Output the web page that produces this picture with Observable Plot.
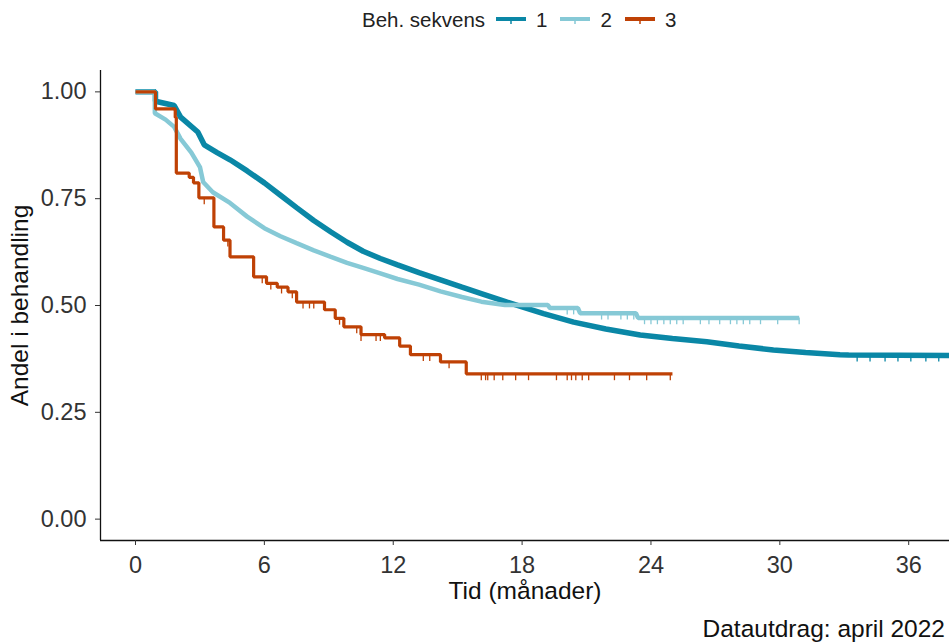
<!DOCTYPE html>
<html>
<head>
<meta charset="utf-8">
<script src="https://cdn.jsdelivr.net/npm/d3@7"></script>
<script src="https://cdn.jsdelivr.net/npm/@observablehq/plot@0.6"></script>
<style>
  html, body { margin: 0; padding: 0; background: white; }
  body { width: 949px; height: 644px; position: relative; overflow: hidden; font-family: "Liberation Sans", Arial, sans-serif; }
  #legend { position: absolute; left: 362px; top: 0; height: 40px; display: flex; align-items: center; font-size: 20.5px; color: #222; }
  #chart { position: absolute; left: 0; top: 44px; }
  #caption { position: absolute; right: 4px; top: 615px; font-size: 24.5px; color: #111; line-height: 28px; }
</style>
</head>
<body>
<div id="legend"></div>
<div id="chart"></div>
<div id="caption">Datautdrag: april 2022</div>
<script>
// ---- data ----
const groups = ["1", "2", "3"];
const groupColors = ["#0a87a6", "#86c9d6", "#bf4105"];
const legendTitle = "Beh. sekvens";
const xLabel = "Tid (månader)";
const yLabel = "Andel i behandling";
const xTicks = [0, 6, 12, 18, 24, 30, 36];
const yTicks = [0, 0.25, 0.5, 0.75, 1];
const xDomain = [-1.63, 37.9];
const yDomain = [-0.05, 1.05];

const time1 = [0, 0.93, 0.93, 1.8, 2.1, 2.9, 3.2, 3.8, 4.4, 5.2, 6.0, 6.75, 7.5, 8.3, 9.1, 9.85, 10.6, 11.4, 12.2, 13.2, 14.2, 15.2, 16.1, 17.3, 18.0, 19.0, 20.4, 21.9, 23.5, 25.0, 26.6, 28.1, 29.7, 31.2, 32.8, 33.2, 37.9];
const surv1 = [1, 1, 0.978, 0.968, 0.941, 0.906, 0.876, 0.858, 0.841, 0.815, 0.787, 0.758, 0.729, 0.699, 0.672, 0.648, 0.627, 0.610, 0.595, 0.577, 0.560, 0.543, 0.528, 0.508, 0.497, 0.481, 0.461, 0.445, 0.431, 0.423, 0.415, 0.405, 0.396, 0.390, 0.385, 0.384, 0.383];

const time2 = [0, 0.9, 0.9, 1.4, 1.8, 2.1, 2.6, 3.0, 3.15, 3.6, 4.4, 5.2, 6.0, 6.75, 7.5, 8.3, 9.1, 9.85, 10.6, 11.4, 12.2, 13.2, 14.2, 15.2, 16.1, 17.2, 19.2, 19.3, 20.6, 20.7, 23.3, 23.4, 30.9];
const surv2 = [1, 1, 0.95, 0.935, 0.918, 0.89, 0.858, 0.824, 0.789, 0.765, 0.74, 0.708, 0.681, 0.662, 0.646, 0.629, 0.614, 0.600, 0.588, 0.575, 0.562, 0.549, 0.533, 0.520, 0.509, 0.501, 0.501, 0.494, 0.494, 0.482, 0.482, 0.471, 0.471];

const time3 = [0, 0.93, 1.85, 1.9, 2.5, 2.7, 2.95, 3.65, 4.1, 4.4, 5.5, 6.1, 6.6, 7.1, 7.5, 8.8, 9.3, 9.7, 10.5, 11.6, 12.3, 12.8, 14.2, 15.4, 25.0];
const surv3 = [1, 0.96, 0.94, 0.81, 0.80, 0.787, 0.752, 0.684, 0.653, 0.614, 0.567, 0.552, 0.543, 0.532, 0.508, 0.49, 0.47, 0.45, 0.432, 0.424, 0.405, 0.385, 0.368, 0.34, 0.34];

// censoring times (visible tick marks)
const censor1 = [33.6, 34.2, 34.9, 35.5, 36.1, 36.8, 37.4];
const censor2 = [20.1, 20.4, 21.7, 22.0, 22.6, 22.9, 23.2, 23.7, 24.0, 24.3, 24.6, 24.9, 25.2, 25.5, 26.3, 26.7, 27.2, 27.7, 28.0, 28.3, 28.6, 29.1, 29.9, 30.9];
const censor3 = [3.2, 4.3, 5.9, 6.3, 6.8, 7.3, 7.8, 8.1, 8.3, 9.5, 10.3, 10.5, 11.2, 11.4, 13.4, 13.7, 14.6, 16.1, 16.3, 16.4, 16.7, 17.1, 17.7, 18.3, 19.6, 20.1, 20.3, 20.5, 20.8, 21.1, 22.3, 23.0, 23.8, 24.9];

// ---- build tables ----
const seriesT = [time1, time2, time3];
const seriesS = [surv1, surv2, surv3];
const censors = [censor1, censor2, censor3];
const rows = groups.map((g, i) => seriesT[i].map((t, j) => ({group: g, t, s: seriesS[i][j]})));
function survAt(i, c) {
  const T = seriesT[i], S = seriesS[i];
  let k = 0;
  for (let j = 0; j < T.length; j++) if (T[j] <= c) k = j;
  return S[k];
}
const censorRows = groups.flatMap((g, i) => censors[i].map(c => ({group: g, t: c, s: survAt(i, c)})));
const widths = [5.5, 4.5, 3.2];
const curves = ["linear", "linear", "step-after"];

const chart = Plot.plot({
  width: 949,
  height: 566,
  marginLeft: 100,
  marginRight: 0,
  marginTop: 26,
  marginBottom: 70,
  style: {fontFamily: "'Liberation Sans', Arial, sans-serif", background: "white", overflow: "visible"},
  x: {domain: xDomain},
  y: {domain: yDomain},
  color: {domain: groups, range: groupColors},
  marks: [
    ...groups.map((g, i) => Plot.line(rows[i], {x: "t", y: "s", stroke: "group", strokeWidth: widths[i], curve: curves[i], strokeLinejoin: "miter", strokeLinecap: "butt"})),
    Plot.ruleX(censorRows, {x: "t", y1: d => d.s - 0.016, y2: "s", stroke: "group", strokeWidth: 1.3}),
    Plot.ruleX([xDomain[0]], {stroke: "#111", strokeWidth: 1.3}),
    Plot.ruleY([yDomain[0]], {stroke: "#111", strokeWidth: 1.3}),
    Plot.axisX({ticks: xTicks, tickSize: 5, tickPadding: 11, fontSize: 23.5, label: null, color: "#333"}),
    Plot.axisY({ticks: yTicks, tickFormat: d3.format(".2f"), tickSize: 5, tickPadding: 9, fontSize: 23.5, label: null, color: "#333"}),
    Plot.text([xLabel], {frameAnchor: "bottom", dy: 58, fontSize: 24.5, fill: "#111"}),
    Plot.text([yLabel], {frameAnchor: "left", rotate: -90, dx: -80, fontSize: 24.5, fill: "#111", textAnchor: "middle"})
  ]
});
document.getElementById("chart").appendChild(chart);

// ---- legend ----
const legend = document.getElementById("legend");
const title = document.createElement("span");
title.textContent = legendTitle;
legend.appendChild(title);
groups.forEach((g, i) => {
  const ns = "http://www.w3.org/2000/svg";
  const svg = document.createElementNS(ns, "svg");
  svg.setAttribute("width", 30);
  svg.setAttribute("height", 12);
  svg.style.marginLeft = i === 0 ? "11px" : "13px";
  const l = document.createElementNS(ns, "line");
  l.setAttribute("x1", 0); l.setAttribute("x2", 30); l.setAttribute("y1", 5); l.setAttribute("y2", 5);
  l.setAttribute("stroke", groupColors[i]); l.setAttribute("stroke-width", 4);
  const t = document.createElementNS(ns, "line");
  t.setAttribute("x1", 15); t.setAttribute("x2", 15); t.setAttribute("y1", 3); t.setAttribute("y2", 10);
  t.setAttribute("stroke", groupColors[i]); t.setAttribute("stroke-width", 1.5);
  svg.appendChild(l); svg.appendChild(t);
  legend.appendChild(svg);
  const lab = document.createElement("span");
  lab.textContent = g;
  lab.style.marginLeft = "10px";
  legend.appendChild(lab);
});
</script>
</body>
</html>
